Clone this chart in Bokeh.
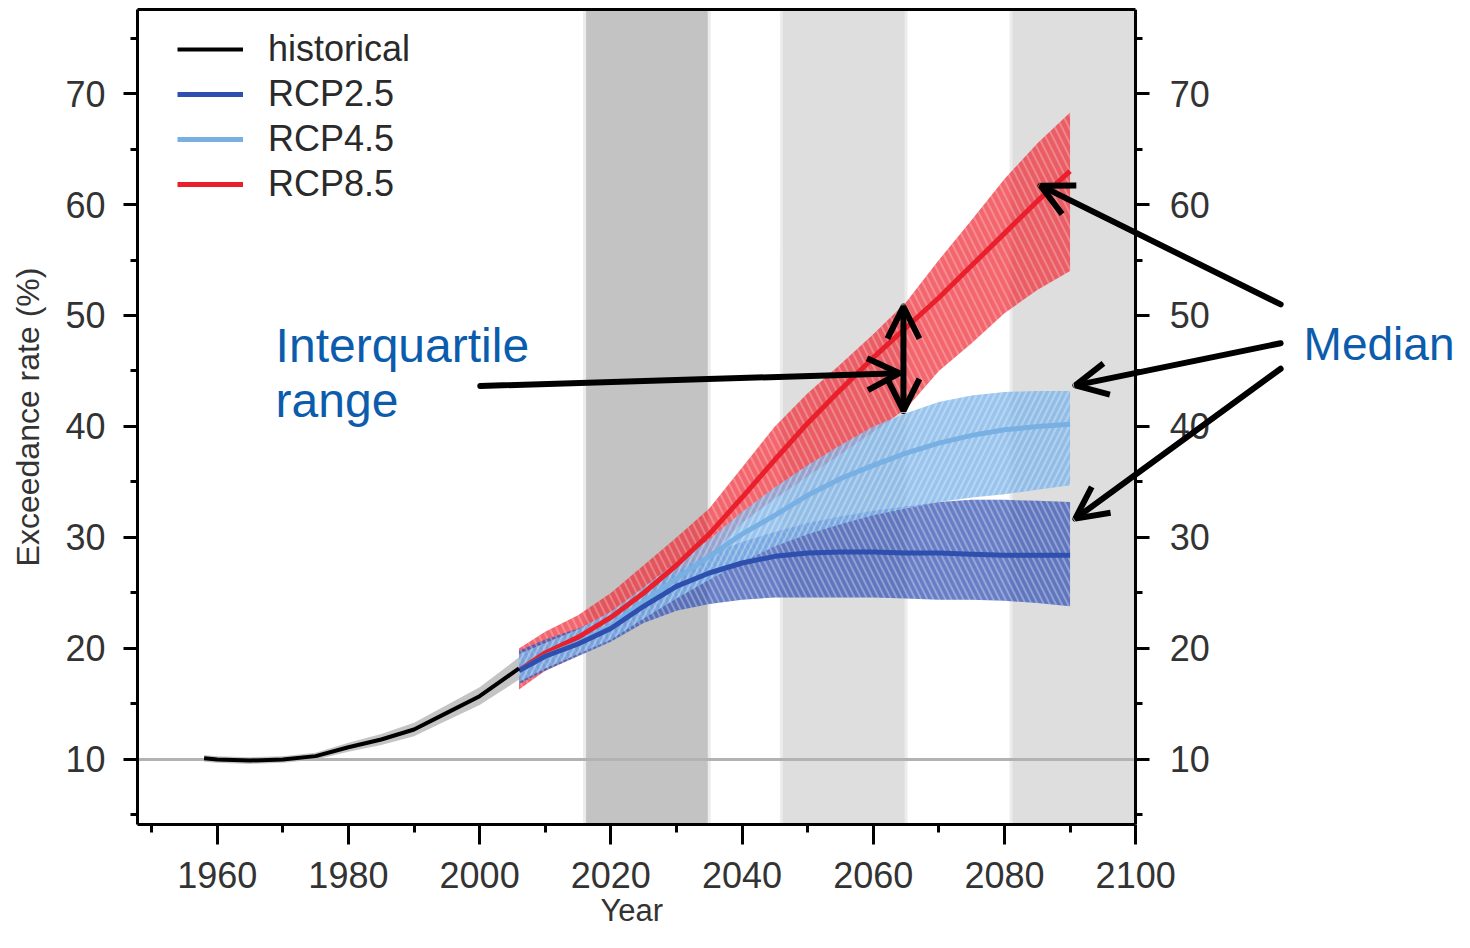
from bokeh.plotting import figure
from bokeh.models import (Range1d, LinearAxis, FixedTicker, BoxAnnotation,
                          Arrow, OpenHead, Label, Legend, LegendItem, Title)
from bokeh.embed import file_html
from bokeh.resources import INLINE

# ---------------- data ----------------
hist_years = [1958, 1960, 1965, 1970, 1975, 1980, 1985, 1990, 1995, 2000, 2006]
hist_median = [10.1, 10.0, 9.9, 10.0, 10.3, 11.1, 11.8, 12.7, 14.2, 15.7, 18.2]
hist_low = [9.8, 9.7, 9.6, 9.7, 10.0, 10.7, 11.3, 12.1, 13.5, 14.9, 17.2]
hist_high = [10.4, 10.3, 10.2, 10.3, 10.6, 11.5, 12.3, 13.3, 14.9, 16.5, 19.2]

proj_years = [2006, 2010, 2015, 2020, 2025, 2030, 2035, 2040, 2045, 2050,
              2055, 2060, 2065, 2070, 2075, 2080, 2085, 2090]

rcp26_median = [18.0, 19.3, 20.4, 21.8, 23.8, 25.6, 26.8, 27.7, 28.3, 28.6,
                28.7, 28.7, 28.6, 28.6, 28.5, 28.4, 28.4, 28.4]
rcp26_high = [19.8, 20.8, 21.8, 23.0, 25.2, 27.0, 28.5, 29.6, 30.5, 31.3,
              31.9, 32.4, 32.8, 33.2, 33.4, 33.4, 33.3, 33.2]
rcp26_low = [16.8, 18.0, 19.3, 20.6, 22.3, 23.4, 24.0, 24.4, 24.6, 24.6,
             24.6, 24.6, 24.5, 24.4, 24.4, 24.3, 24.1, 23.8]

rcp45_median = [18.0, 19.3, 20.5, 22.0, 24.2, 26.3, 28.3, 30.3, 32.0, 33.8,
                35.3, 36.5, 37.6, 38.5, 39.2, 39.7, 40.0, 40.2]
rcp45_high = [19.5, 20.5, 21.7, 23.3, 25.5, 27.8, 29.8, 32.3, 34.5, 36.5,
              38.3, 40.0, 41.2, 42.2, 42.8, 43.1, 43.2, 43.2]
rcp45_low = [17.0, 18.2, 19.5, 20.8, 22.7, 24.5, 26.2, 27.8, 29.2, 30.3,
             31.2, 32.0, 32.6, 33.2, 33.6, 33.9, 34.3, 34.7]

rcp85_median = [18.0, 19.6, 21.0, 22.8, 25.0, 27.5, 30.3, 33.6, 37.0, 40.3,
                43.3, 46.2, 48.9, 51.6, 54.5, 57.4, 60.3, 63.0]
rcp85_high = [20.0, 21.5, 23.0, 25.0, 27.5, 30.0, 32.6, 36.3, 40.0, 43.0,
              45.6, 48.3, 51.2, 55.0, 58.6, 62.3, 65.5, 68.3]
rcp85_low = [16.3, 18.0, 19.4, 21.0, 23.0, 25.4, 28.2, 31.3, 33.5, 35.5,
             37.5, 39.5, 41.6, 45.0, 47.5, 50.2, 52.3, 54.0]

period_start = [2016, 2046, 2081]
period_end = [2035, 2065, 2100]
period_colors = ["#c3c3c3", "#dedede", "#dedede"]

x_major = [1960, 1980, 2000, 2020, 2040, 2060, 2080, 2100]
x_minor = [1950, 1970, 1990, 2010, 2030, 2050, 2070, 2090]
y_major = [10, 20, 30, 40, 50, 60, 70]
y_minor = [5, 15, 25, 35, 45, 55, 65, 75]
reference_level = 10

X0, X1 = 1947.85, 2100
Y0, Y1 = 4.14, 77.57

FONT = "Liberation Sans"
TXT = "#333333"
BLUE_TXT = "#0b5cad"

p = figure(width=1454, height=932, output_backend="svg", toolbar_location=None,
           x_range=Range1d(X0, 2148.6), y_range=Range1d(Y0, Y1),
           x_axis_location=None, y_axis_location=None,
           min_border_left=137, min_border_right=0, min_border_top=9,
           min_border_bottom=108)
p.background_fill_color = "white"
p.border_fill_color = "white"
p.xgrid.visible = False
p.ygrid.visible = False
p.outline_line_color = None

# background periods
for s, e, c in zip(period_start, period_end, period_colors):
    p.add_layout(BoxAnnotation(left=s, right=e, fill_color=c, fill_alpha=1.0,
                               line_color="#ececec", line_alpha=1.0, line_width=3,
                               level="underlay"))
p.add_layout(BoxAnnotation(left=X0, right=X1, bottom=reference_level, top=reference_level,
                           fill_alpha=0, line_color="#b2b2b2", line_alpha=1.0,
                           line_width=3, level="underlay"))

# historical
p.varea(x=hist_years, y1=hist_low, y2=hist_high, fill_color="#b5b5b5", fill_alpha=0.8)

# projection bands
p.varea(x=proj_years, y1=rcp85_low, y2=rcp85_high, fill_color="#ef2b36", fill_alpha=0.72,
        hatch_pattern="left_diagonal_line", hatch_color="white", hatch_alpha=0.25,
        hatch_scale=14, hatch_weight=2)
p.varea(x=proj_years, y1=rcp26_low, y2=rcp26_high, fill_color="#3453b3", fill_alpha=0.75,
        hatch_pattern="left_diagonal_line", hatch_color="white", hatch_alpha=0.3,
        hatch_scale=12, hatch_weight=2)
p.varea(x=proj_years, y1=rcp45_low, y2=rcp45_high, fill_color="#7cb4e8", fill_alpha=0.78,
        hatch_pattern="right_diagonal_line", hatch_color="white", hatch_alpha=0.3,
        hatch_scale=12, hatch_weight=2)

r85 = p.line(proj_years, rcp85_median, line_color="#e9202b", line_width=5)
r45 = p.line(proj_years, rcp45_median, line_color="#78b0e4", line_width=5)
r26 = p.line(proj_years, rcp26_median, line_color="#2e4fae", line_width=5)
rh = p.line(hist_years, hist_median, line_color="black", line_width=4)

# axes
xticker = FixedTicker(ticks=x_major, minor_ticks=x_minor)
yticker = FixedTicker(ticks=y_major, minor_ticks=y_minor)
bottom = LinearAxis(ticker=xticker, bounds=(X0, X1))
left = LinearAxis(ticker=yticker, axis_label="Exceedance rate (%)")
right = LinearAxis(ticker=yticker, fixed_location=X1)
top = LinearAxis(ticker=FixedTicker(ticks=[]), bounds=(X0, X1),
                 major_label_text_font_size="0px")

for ax in [bottom, left, right, top]:
    ax.axis_line_color = "black"
    ax.axis_line_width = 3
    ax.major_tick_line_color = "black"
    ax.major_tick_line_width = 3
    ax.minor_tick_line_color = "black"
    ax.minor_tick_line_width = 3
    ax.major_tick_in = 0
    ax.minor_tick_in = 0
    ax.major_label_text_font = FONT
    ax.major_label_text_color = TXT
    ax.axis_label_text_font = FONT
    ax.axis_label_text_font_style = "normal"
    ax.axis_label_text_color = TXT
for ax in [bottom, left, right]:
    ax.major_label_text_font_size = "36px"

top.major_tick_out = 0
top.minor_tick_out = 0

bottom.major_tick_out = 20
bottom.minor_tick_out = 8
bottom.major_label_standoff = 17

left.major_tick_out = 14
left.minor_tick_out = 7
left.major_label_standoff = 18
left.axis_label_text_font_size = "32px"
left.axis_label_standoff = 16

right.major_tick_out = 14
right.minor_tick_out = 7
right.major_label_standoff = 20

p.add_layout(bottom, "below")
p.add_layout(left, "left")
p.add_layout(right, "right")
p.add_layout(top, "above")

# x-axis title, aligned under the 1948-2100 span
p.add_layout(Title(text="Year", align="left", offset=463, standoff=0,
                   text_font=FONT, text_font_size="31px", text_font_style="normal",
                   text_color=TXT), "below")

# legend
legend = Legend(items=[LegendItem(label="historical", renderers=[rh]),
                       LegendItem(label="RCP2.5", renderers=[r26]),
                       LegendItem(label="RCP4.5", renderers=[r45]),
                       LegendItem(label="RCP8.5", renderers=[r85])],
                location=(40, 619), orientation="vertical",
                border_line_color=None, background_fill_alpha=0.0,
                padding=0, margin=0, spacing=3,
                label_height=42, glyph_height=42, glyph_width=66, label_standoff=25,
                label_text_font=FONT, label_text_font_size="36px",
                label_text_color="#2a2a2a")
p.add_layout(legend, "center")

# annotations
def arrow(x0, y0, x1, y1, both=False):
    kw = dict(end=OpenHead(size=32, line_width=6, line_color="black"),
              x_start=x0, y_start=y0, x_end=x1, y_end=y1,
              line_width=6, line_color="black", line_cap="round")
    kw["start"] = OpenHead(size=32, line_width=6, line_color="black") if both else None
    p.add_layout(Arrow(**kw))

arrow(2000.1, 43.65, 2064.0, 44.8)
arrow(2064.6, 41.4, 2064.6, 50.8, both=True)
arrow(2122.1, 51.0, 2085.5, 61.7)
arrow(2122.1, 47.5, 2090.8, 43.7)
arrow(2122.1, 45.2, 2090.8, 31.7)

for txt, xx, yy in [("Interquartile", 1968.9, 47.3), ("range", 1968.9, 42.3)]:
    p.add_layout(Label(x=xx, y=yy, text=txt, text_font=FONT, text_font_size="48px",
                       text_color=BLUE_TXT, text_baseline="alphabetic"))
p.add_layout(Label(x=2125.6, y=47.4, text="Median", text_font=FONT, text_font_size="46px",
                   text_color=BLUE_TXT, text_baseline="alphabetic"))

open("out.html", "w").write(file_html(p, INLINE))
